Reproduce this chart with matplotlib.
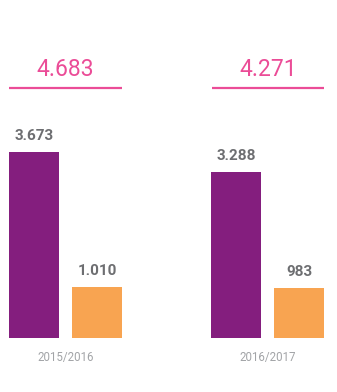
import matplotlib
matplotlib.use("Agg")
import matplotlib.pyplot as plt

# Seasons and the two components per season
seasons = ["2015/2016", "2016/2017"]
series_a = [3673, 3288]
series_b = [1010, 983]
value_labels_a = ["3.673", "3.288"]
value_labels_b = ["1.010", "983"]

totals = [a + b for a, b in zip(series_a, series_b)]


def fmt_thousands(v):
    return f"{v:,}".replace(",", ".")


PURPLE = "#841e7e"
ORANGE = "#f8a451"
PINK = "#eb4c97"
GREY_DARK = "#6d6e71"
GREY_LIGHT = "#a2a4a7"

W, H = 337, 392
fig = plt.figure(figsize=(W / 100, H / 100), dpi=100)
fig.patch.set_facecolor("white")

# axes: baseline at pixel 338 from top, top edge at pixel 0
ax = fig.add_axes([0, (H - 338) / H, 1, 338 / H])
ax.set_ylim(0, 338 / 0.0506)
ax.set_xlim(-65.5 / 202.5, (W - 65.5) / 202.5)
ax.axis("off")

x = list(range(len(seasons)))
width = 50 / 202.5
off = 31.5 / 202.5

bars_a = ax.bar([i - off for i in x], series_a, width=width, color=PURPLE)
bars_b = ax.bar([i + off for i in x], series_b, width=width, color=ORANGE)

label_font = dict(family=["Roboto", "DejaVu Sans"], fontsize=11, fontweight="bold",
                  color=GREY_DARK, ha="center", va="center")
for bars, labels in ((bars_a, value_labels_a), (bars_b, value_labels_b)):
    for rect, lab in zip(bars, labels):
        ax.annotate(lab, (rect.get_x() + rect.get_width() / 2, rect.get_height()),
                    xytext=(0, 11.5), textcoords="offset points", **label_font)

trans = ax.get_xaxis_transform()
for i, t in enumerate(totals):
    ax.text(i, 1 - 69 / 338, fmt_thousands(t), transform=trans, ha="center", va="center",
            fontsize=16.5, color=PINK, family=["Roboto", "DejaVu Sans"], fontweight="normal")
    ax.plot([i - 0.279, i + 0.279], [1 - 88.3 / 338] * 2, transform=trans,
            color=PINK, lw=1.6, solid_capstyle="butt")
    ax.text(i, -19 / 338, seasons[i], transform=trans, ha="center", va="center",
            fontsize=8.3, color=GREY_LIGHT, family=["Roboto", "DejaVu Sans"],
            fontweight="normal", clip_on=False)

fig.savefig("out.png", dpi=100, facecolor="white")
